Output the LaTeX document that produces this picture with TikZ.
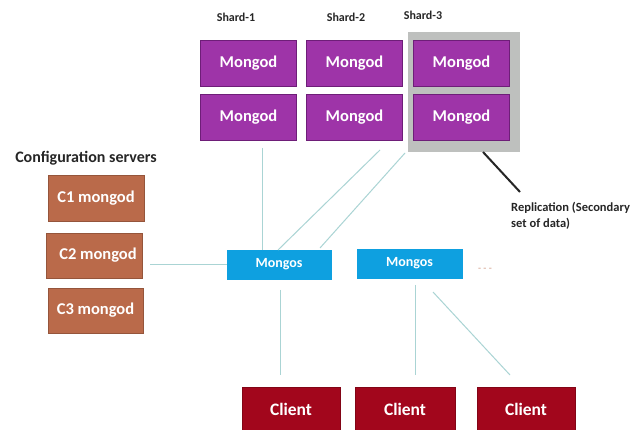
\documentclass[tikz,border=0pt]{standalone}
\usepackage{fontspec}
\setmainfont{Carlito}
\definecolor{mgd}{RGB}{158,52,168}
\definecolor{mgdb}{RGB}{110,30,120}
\definecolor{frame}{RGB}{190,192,190}
\definecolor{cfg}{RGB}{186,106,74}
\definecolor{mgs}{RGB}{14,160,224}
\definecolor{cli}{RGB}{162,6,28}
\definecolor{conn}{RGB}{170,212,212}
\tikzset{
  box/.style={draw, line width=0.8pt, inner sep=0pt, font=\bfseries, text=white},
  mongod/.style={box, fill=mgd, draw=mgdb, minimum width=96pt, minimum height=46pt, font=\bfseries\fontsize{16.5}{18}\selectfont},
  cfgbox/.style={box, fill=cfg, draw=cfg!80!black, minimum width=96pt, minimum height=46pt, font=\bfseries\fontsize{16.5}{18}\selectfont},
  mongos/.style={box, fill=mgs, draw=mgs, minimum width=104pt, minimum height=29pt, font=\bfseries\fontsize{14}{16}\selectfont},
  client/.style={box, fill=cli, draw=cli!80!black, minimum width=98pt, minimum height=44pt, font=\bfseries\fontsize{17.5}{19}\selectfont},
  lbl/.style={inner sep=0pt, font=\bfseries\fontsize{12}{14}\selectfont, text=black!85},
  link/.style={draw=conn, line width=1pt}
}
\begin{document}
\begin{tikzpicture}[x=1pt,y=-1pt]
\useasboundingbox[fill=white] (0,0) rectangle (640,430);
% shard labels
\node[lbl] (l1) at (236,17) {Shard-1};
\node[lbl] (l2) at (346,17) {Shard-2};
\node[lbl] (l3) at (423,15) {Shard-3};
% replication frame
\node[fill=frame, minimum width=112pt, minimum height=120pt, inner sep=0pt] (fr) at (464,92) {};
% mongod boxes
\node[mongod] (a1) at (248.5,63) {Mongod};
\node[mongod] (a2) at (354.5,63) {Mongod};
\node[mongod] (a3) at (461.5,63) {Mongod};
\node[mongod] (b1) at (248.5,117) {Mongod};
\node[mongod] (b2) at (354.5,117) {Mongod};
\node[mongod] (b3) at (461.5,117) {Mongod};
% config servers
\node[inner sep=0pt, font=\bfseries\fontsize{16}{18}\selectfont, text=black!85] (ct) at (86,158) {Configuration servers};
\node[cfgbox] (c1) at (96,198.5) {C1 mongod};
\node[cfgbox, minimum height=45pt] (c2) at (94,255.5) {\hspace{8pt}C2 mongod};
\node[cfgbox, minimum width=95pt, minimum height=45pt] (c3) at (95.5,310.5) {C3 mongod};
% mongos
\node[mongos] (m1) at (279,264.5) {Mongos};
\node[mongos, minimum width=105pt] (m2) at (409.5,263.5) {Mongos};
\node[inner sep=0pt, text=cfg!70, font=\fontsize{10}{12}\selectfont] (dots) at (485,270) {- - -};
% clients
\node[client] (k1) at (291,409) {Client};
\node[client, minimum width=100pt] (k2) at (405,409) {Client};
\node[client] (k3) at (526,409) {Client};
% replication label
\node[lbl, align=left, anchor=north west, font=\bfseries\fontsize{12.5}{16}\selectfont] (rep) at (511,202) {Replication (Secondary\\set of data)};
% connector endpoints
\coordinate (p1) at (262,148);
\coordinate (q1) at (262,250);
\coordinate (p2) at (380,150);
\coordinate (q2) at (278,250);
\coordinate (p3) at (405,153);
\coordinate (q3) at (320,248);
\coordinate (r1) at (483,152);
\coordinate (r2) at (520,192);
\coordinate (u1) at (280,290);
\coordinate (v1) at (280,375);
\coordinate (u2) at (415,285);
\coordinate (v2) at (415,375);
\coordinate (u3) at (433,292);
\coordinate (v3) at (510,375);
\coordinate (w1) at (150,265);
\coordinate (w2) at (227,265);
\draw[link] (p1) -- (q1);
\draw[link] (p2) -- (q2);
\draw[link] (p3) -- (q3);
\draw[link] (w1) -- (w2);
\draw[link] (u1) -- (v1);
\draw[link] (u2) -- (v2);
\draw[link] (u3) -- (v3);
\draw[line width=2pt, black!85] (r1) -- (r2);
\end{tikzpicture}
\end{document}
